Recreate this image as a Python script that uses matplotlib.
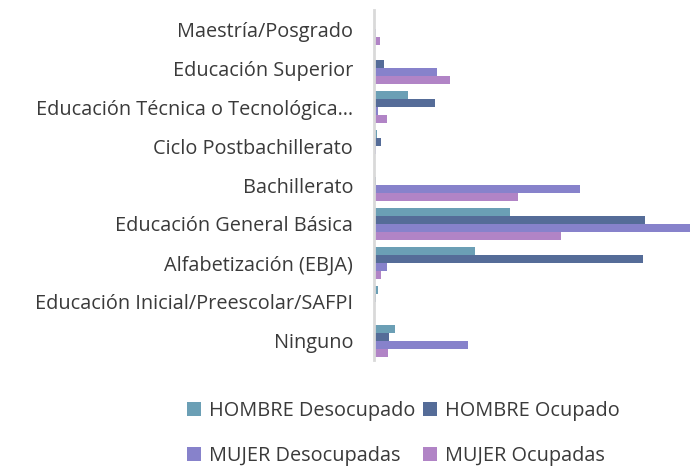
import matplotlib.pyplot as plt
import numpy as np

plt.rcParams['font.family'] = ['Open Sans', 'DejaVu Sans']

categories = ['Maestría/Posgrado', 'Educación Superior', 'Educación Técnica o Tecnológica…',
              'Ciclo Postbachillerato', 'Bachillerato', 'Educación General Básica',
              'Alfabetización (EBJA)', 'Educación Inicial/Preescolar/SAFPI', 'Ninguno']
hombre_desocupado = [0.5, 1, 34, 3, 1, 136, 101, 4, 21]
hombre_ocupado = [1.2, 10, 61, 7, 2, 271, 269, 2, 15]
mujer_desocupadas = [2, 63, 4, 2, 206, 320, 13, 1.2, 94]
mujer_ocupadas = [6, 76, 13, 1, 144, 187, 7, 0.5, 14]

series = [
    ('HOMBRE Desocupado', hombre_desocupado, '#6B9FB5'),
    ('HOMBRE Ocupado', hombre_ocupado, '#556C98'),
    ('MUJER Desocupadas', mujer_desocupadas, '#8782CB'),
    ('MUJER Ocupadas', mujer_ocupadas, '#B184C6'),
]

fig = plt.figure(figsize=(6.9, 4.66), dpi=100)
ax = fig.add_axes([0.542, 0.227, 0.458, 0.752])

n = len(categories)
y = np.arange(n)[::-1]
h = 0.205
offsets = [1.5, 0.5, -0.5, -1.5]
bars = []
for (name, vals, col), off in zip(series, offsets):
    bars.append(ax.barh(y + off * h, vals, height=h, color=col, label=name))

ax.set_yticks(y)
ax.set_yticklabels(categories, fontsize=14.3, color='#3A3A3A')
ax.tick_params(axis='y', length=0, pad=15)
ax.set_xticks([])
ax.set_xlim(0, 316)
ax.set_ylim(-0.5, n - 0.5)
for s in ['top', 'right', 'bottom']:
    ax.spines[s].set_visible(False)
ax.spines['left'].set_color('#D9D9D9')
ax.spines['left'].set_linewidth(2)

# column-major fill: HD, MD in first column, HO, MO in second
order = [0, 2, 1, 3]
fig.legend([bars[i] for i in order], [series[i][0] for i in order],
           loc='center', bbox_to_anchor=(0.585, 0.070), ncol=2, frameon=False,
           fontsize=14.3, handlelength=0.7, handleheight=0.7, handletextpad=0.4,
           columnspacing=0.4, labelspacing=1.25, labelcolor='#3A3A3A')

fig.savefig('out.png', dpi=100)
